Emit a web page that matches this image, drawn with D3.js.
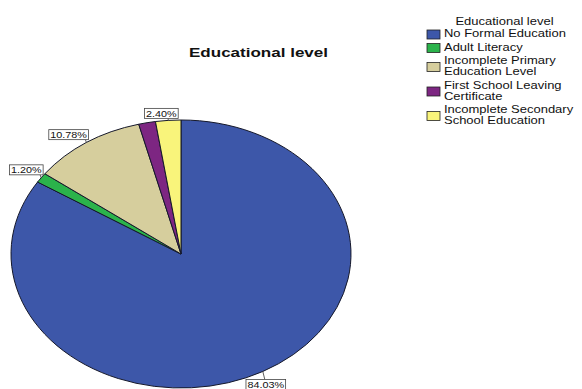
<!DOCTYPE html>
<html>
<head>
<meta charset="utf-8">
<script src="https://cdn.jsdelivr.net/npm/d3@7"></script>
<style>
  body { margin: 0; background: #fff; }
  text { font-family: "Liberation Sans", Arial, sans-serif; fill: #111; }
</style>
</head>
<body>
<svg id="chart" width="582" height="389"></svg>
<script>
// Data: share of respondents by educational level (percent)
const categories = [
  "No Formal Education",
  "Adult Literacy",
  "Incomplete Primary Education Level",
  "First School Leaving Certificate",
  "Incomplete Secondary School Education"
];
const legendLines = [
  ["No Formal Education"],
  ["Adult Literacy"],
  ["Incomplete Primary", "Education Level"],
  ["First School Leaving", "Certificate"],
  ["Incomplete Secondary", "School Education"]
];
const percentages = [84.03, 1.20, 10.78, 1.60, 2.40];
const showValueLabel = [true, true, true, false, true];
const colors = ["#3d57a9", "#2bb34b", "#d6ce9d", "#7d2682", "#f9f47b"];
const chartTitle = "Educational level";
const legendTitle = "Educational level";

const svg = d3.select("#chart");

// Elliptical pie geometry
const cx = 181, cy = 254, rx = 170, ry = 134;
const stretch = 1.3;          // horizontal stretch of legend glyphs
const labelStretch = 1.2;     // horizontal stretch of value-label glyphs

const pieData = d3.pie().sort(null).value(d => d)(percentages);
const arc = d3.arc().innerRadius(0).outerRadius(rx);

const pieG = svg.append("g")
  .attr("transform", `translate(${cx},${cy}) scale(1,${ry / rx})`);

pieG.selectAll("path")
  .data(pieData)
  .join("path")
  .attr("d", arc)
  .attr("fill", (d, i) => colors[i])
  .attr("stroke", "#15182a")
  .attr("stroke-width", 1)
  .attr("vector-effect", "non-scaling-stroke");

// Helper: stretched text
function stretchedText(parent, x, y, str, opts = {}) {
  const g = parent.append("g").attr("transform", `translate(${x},${y}) scale(${opts.sx || stretch},1)`);
  const t = g.append("text")
    .attr("x", 0).attr("y", 0)
    .attr("font-size", opts.size || 10)
    .attr("font-weight", opts.weight || "normal")
    .attr("text-anchor", opts.anchor || "start")
    .text(str);
  return t;
}

// Point on the ellipse rim for a pie angle
function rimPoint(a) {
  return [cx + rx * Math.sin(a), cy - ry * Math.cos(a)];
}

const fmt = d3.format(".2f");
const labelG = svg.append("g");
pieData.forEach((d, i) => {
  if (!showValueLabel[i]) return;
  const mid = (d.startAngle + d.endAngle) / 2;
  const [px, py] = rimPoint(mid);
  const str = fmt(d.value) + "%";
  const fontSize = 9;
  // measure text
  const tmp = svg.append("text").attr("font-size", fontSize).text(str);
  const tw = tmp.node().getComputedTextLength() * labelStretch;
  tmp.remove();
  const bw = tw + 3, bh = 10;
  let bx, by, lx, ly;
  const deg = mid * 180 / Math.PI;
  if (deg > 340 || deg < 20) {          // near the top
    bx = px + 10 - bw; by = py - 2 - bh;
    lx = px; ly = by + bh;
  } else if (deg > 200) {               // left side
    bx = px + 2 - bw; by = py - 3 - bh;
    lx = px - 1; ly = by + bh;
  } else {                              // lower side
    bx = px + 3 - bw / 2; by = py + 8;
    lx = px + 2; ly = by;
  }
  labelG.append("line")
    .attr("x1", px).attr("y1", py).attr("x2", lx).attr("y2", ly)
    .attr("stroke", "#333").attr("stroke-width", 0.8);
  labelG.append("rect")
    .attr("x", bx).attr("y", by).attr("width", bw).attr("height", bh)
    .attr("fill", "#fff").attr("stroke", "#444").attr("stroke-width", 0.8);
  stretchedText(labelG, bx + bw / 2, by + bh - 1.8, str, { size: fontSize, anchor: "middle", sx: labelStretch });
});

// Chart title
svg.append("text")
  .attr("x", 258.5).attr("y", 57)
  .attr("font-size", 13)
  .attr("font-weight", "bold")
  .attr("text-anchor", "middle")
  .attr("textLength", 139)
  .attr("lengthAdjust", "spacingAndGlyphs")
  .text(chartTitle);

// Legend
const legendG = svg.append("g");
stretchedText(legendG, 504.5, 25, legendTitle, { size: 10, anchor: "middle" });

const lineH = 11, itemGap = 2.5, swX = 427, swW = 13, swH = 9, textX = 444;
let itemTop = 29.5;
legendLines.forEach((lines, i) => {
  const blockH = lines.length * lineH;
  const center = itemTop + blockH / 2 - 0.5;
  legendG.append("rect")
    .attr("x", swX).attr("y", center - swH / 2)
    .attr("width", swW).attr("height", swH)
    .attr("fill", colors[i])
    .attr("stroke", "#222").attr("stroke-width", 0.8);
  lines.forEach((ln, j) => {
    stretchedText(legendG, textX, itemTop + (j + 1) * lineH - 3.5, ln, { size: 10 });
  });
  itemTop += blockH + itemGap;
});
</script>
</body>
</html>
